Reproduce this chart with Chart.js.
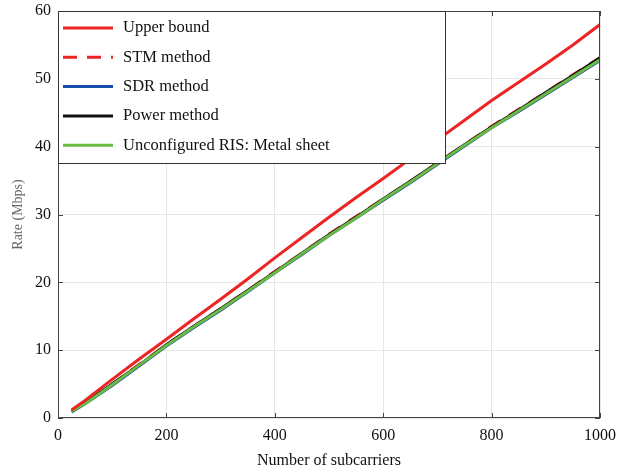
<!DOCTYPE html>
<html>
<head>
<meta charset="utf-8">
<script src="https://cdn.jsdelivr.net/npm/chart.js@4"></script>
<style>
    html, body { margin: 0; padding: 0; background: #fff; }
    #wrap { width: 617px; height: 470px; }
</style>
</head>
<body>
<div id="wrap"><canvas id="rateChart" width="617" height="470"></canvas></div>
<script>
// Number of subcarriers
const subcarriers = [25, 50, 100, 150, 200, 250, 300, 350, 400, 450, 500, 550, 600, 650, 700, 750, 800, 850, 900, 950, 1000];

// Rate (Mbps) for each method
const upperBound = [1.2, 2.6, 5.7, 8.7, 11.6, 14.6, 17.5, 20.5, 23.6, 26.6, 29.6, 32.5, 35.3, 38.2, 41.0, 43.9, 46.8, 49.5, 52.2, 55.0, 58.0];
const stmMethod  = [1.0, 2.2, 5.0, 7.9, 10.8, 13.5, 16.1, 18.8, 21.6, 24.3, 27.1, 29.7, 32.3, 34.9, 37.6, 40.3, 43.0, 45.5, 48.0, 50.6, 53.1];
const sdrMethod  = [0.9, 2.1, 4.8, 7.7, 10.6, 13.3, 15.9, 18.6, 21.4, 24.1, 26.9, 29.5, 32.1, 34.7, 37.4, 40.1, 42.8, 45.2, 47.7, 50.2, 52.7];
const powerMethod = [1.0, 2.2, 5.0, 7.8, 10.8, 13.5, 16.1, 18.8, 21.5, 24.3, 27.0, 29.6, 32.3, 34.9, 37.6, 40.3, 42.9, 45.4, 48.0, 50.5, 53.1];
const metalSheet = [1.0, 2.1, 4.9, 7.8, 10.7, 13.4, 16.0, 18.7, 21.4, 24.2, 26.9, 29.5, 32.2, 34.8, 37.5, 40.2, 42.8, 45.3, 47.8, 50.3, 52.8];

const xTicks = [0, 200, 400, 600, 800, 1000];
const yTicks = [0, 10, 20, 30, 40, 50, 60];

const COLORS = {
    red: "rgb(237, 36, 36)",
    blue: "rgb(25, 75, 170)",
    black: "rgb(15, 15, 15)",
    green: "rgb(106, 188, 69)",
};

function toPoints(values) {
    return subcarriers.map((x, i) => ({x: x, y: values[i]}));
}

// frame around plot area with inward ticks
const framePlugin = {
    id: "frame",
    afterDatasetsDraw(chart) {
        const {ctx, chartArea: a, scales} = chart;
        ctx.save();
        ctx.strokeStyle = "#444";
        ctx.lineWidth = 1;
        ctx.strokeRect(a.left + 0.5, a.top + 0.5, a.right - a.left - 1, a.bottom - a.top - 1);
        ctx.beginPath();
        xTicks.forEach(v => {
            const px = Math.round(scales.x.getPixelForValue(v)) + 0.5;
            ctx.moveTo(px, a.bottom); ctx.lineTo(px, a.bottom - 5);
            ctx.moveTo(px, a.top); ctx.lineTo(px, a.top + 5);
        });
        yTicks.forEach(v => {
            const py = Math.round(scales.y.getPixelForValue(v)) + 0.5;
            ctx.moveTo(a.left, py); ctx.lineTo(a.left + 5, py);
            ctx.moveTo(a.right, py); ctx.lineTo(a.right - 5, py);
        });
        ctx.stroke();
        ctx.restore();
    },
    // legend box drawn in the top left corner of the plot
    afterDraw(chart) {
        const {ctx, chartArea: a} = chart;
        const boxW = 387, boxH = 152;
        ctx.save();
        ctx.fillStyle = "#fff";
        ctx.fillRect(a.left, a.top, boxW, boxH);
        ctx.strokeStyle = "#333";
        ctx.lineWidth = 1;
        ctx.strokeRect(a.left + 0.5, a.top + 0.5, boxW, boxH);
        ctx.font = "16.5px 'Liberation Serif'";
        ctx.textBaseline = "middle";
        chart.data.datasets.forEach((ds, i) => {
            const y = a.top + 17 + i * 29.3;
            ctx.beginPath();
            ctx.strokeStyle = ds.borderColor;
            ctx.lineWidth = 3;
            ctx.setLineDash(ds.borderDash || []);
            ctx.moveTo(a.left + 5, y);
            ctx.lineTo(a.left + 55, y);
            ctx.stroke();
            ctx.setLineDash([]);
            ctx.fillStyle = "#111";
            ctx.fillText(ds.label, a.left + 65, y);
        });
        ctx.restore();
    }
};

const CHART = document.getElementById("rateChart");
const chart = new Chart(CHART, {
    type: "line",
    data: {
        datasets: [
            {label: "Upper bound", data: toPoints(upperBound), borderColor: COLORS.red, order: 1},
            {label: "STM method", data: toPoints(stmMethod), borderColor: COLORS.red, borderDash: [14, 10], order: 5},
            {label: "SDR method", data: toPoints(sdrMethod), borderColor: COLORS.blue, order: 4},
            {label: "Power method", data: toPoints(powerMethod), borderColor: COLORS.black, order: 3},
            {label: "Unconfigured RIS: Metal sheet", data: toPoints(metalSheet), borderColor: COLORS.green, order: 2},
        ],
    },
    options: {
        responsive: false,
        animation: false,
        devicePixelRatio: 1,
        layout: {padding: {left: 0, right: 17, top: 11, bottom: 0}},
        elements: {
            line: {borderWidth: 3, tension: 0, fill: false},
            point: {radius: 0},
        },
        plugins: {
            legend: {display: false},
            tooltip: {enabled: false},
        },
        scales: {
            x: {
                type: "linear",
                min: 0,
                max: 1000,
                afterBuildTicks: (axis) => { axis.ticks = xTicks.map(v => ({value: v})); },
                afterFit: (axis) => {
                    axis.height = 52;
                    axis.paddingLeft = 0;
                    axis.paddingRight = 0;
                },
                grid: {color: "#e6e6e6", drawTicks: false},
                border: {display: false},
                ticks: {
                    padding: 8,
                    color: "#111",
                    font: {family: "Liberation Serif", size: 16},
                    callback: (v) => String(v),
                },
                title: {
                    display: true,
                    text: "Number of subcarriers",
                    color: "#111",
                    padding: {top: 0, bottom: 0},
                    font: {family: "Liberation Serif", size: 16},
                },
            },
            y: {
                min: 0,
                max: 60,
                afterBuildTicks: (axis) => { axis.ticks = yTicks.map(v => ({value: v})); },
                afterFit: (axis) => {
                    axis.width = 58;
                    axis.paddingTop = 0;
                    axis.paddingBottom = 0;
                },
                grid: {color: "#e6e6e6", drawTicks: false},
                border: {display: false},
                ticks: {
                    padding: 7,
                    color: "#111",
                    font: {family: "Liberation Serif", size: 16},
                    callback: (v) => String(v),
                },
                title: {
                    display: true,
                    text: "Rate (Mbps)",
                    color: "#666",
                    padding: {top: 10, bottom: 0},
                    font: {family: "Liberation Serif", size: 14},
                },
            },
        },
    },
    plugins: [framePlugin],
});
</script>
</body>
</html>
